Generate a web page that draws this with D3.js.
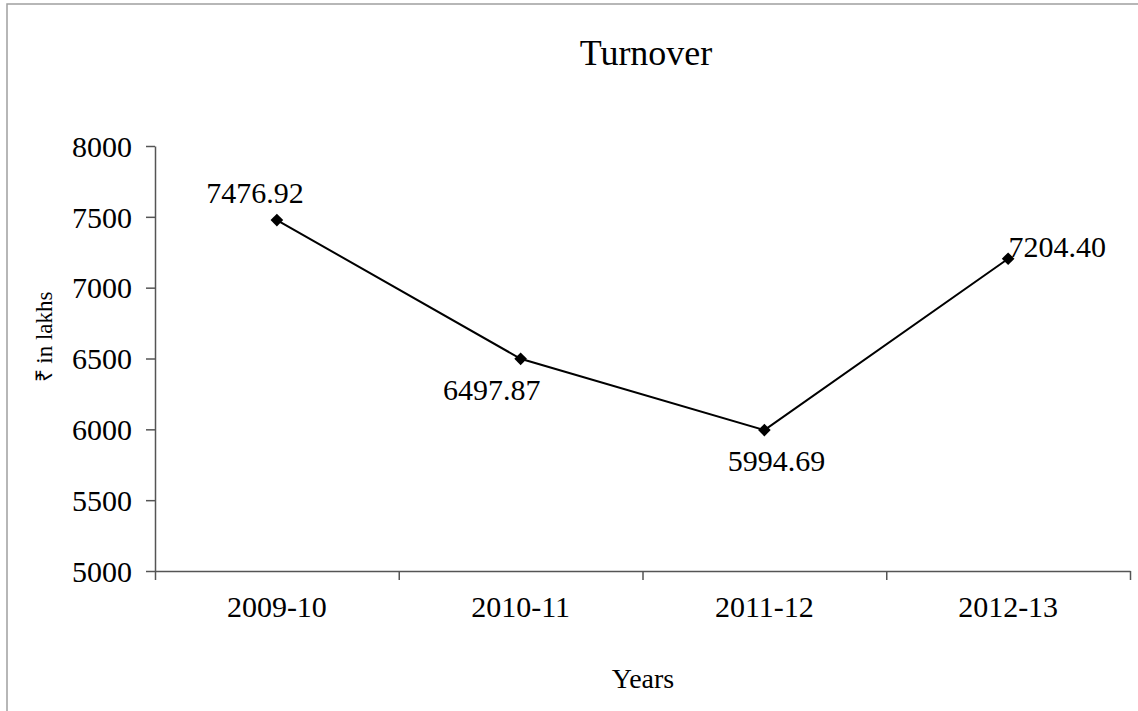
<!DOCTYPE html>
<html>
<head>
<meta charset="utf-8">
<script src="https://cdn.jsdelivr.net/npm/d3@7"></script>
<style>
  body { margin: 0; background: #fff; }
  text { font-family: "Liberation Serif", "Times New Roman", serif; fill: #000; }
</style>
</head>
<body>
<div id="chart"></div>
<script>
const years = ["2009-10", "2010-11", "2011-12", "2012-13"];
const turnover = [7476.92, 6497.87, 5994.69, 7204.4];
const yTicks = [5000, 5500, 6000, 6500, 7000, 7500, 8000];

// where each value label sits relative to its point (dx, dy of text centre/baseline)
const labelPos = [
  { dx: -22, dy: -17 },
  { dx: -29, dy: 41 },
  { dx: 12, dy: 41 },
  { dx: 49, dy: -2 },
];

const W = 1138;
const H = 711;
const plot = { left: 155, right: 1130, top: 146, bottom: 571 };
const serif = '"Liberation Serif", "Times New Roman", serif';

const svg = d3
  .select("#chart")
  .append("svg")
  .attr("width", W)
  .attr("height", H);

// outer chart border (runs off the right and bottom edges)
svg
  .append("rect")
  .attr("x", 7)
  .attr("y", 4)
  .attr("width", W + 20)
  .attr("height", H + 20)
  .attr("fill", "none")
  .attr("stroke", "#a0a0a0")
  .attr("stroke-width", 1.5);

const x = d3.scaleBand().domain(years).range([plot.left, plot.right]);
const y = d3.scaleLinear().domain([5000, 8000]).range([plot.bottom, plot.top]);
const edges = d3.scalePoint().domain(d3.range(years.length + 1)).range([plot.left, plot.right]);

// y axis
const yAxis = svg
  .append("g")
  .attr("transform", `translate(${plot.left},0)`)
  .call(
    d3.axisLeft(y).tickValues(yTicks).tickFormat(d3.format("d"))
      .tickSize(9).tickSizeOuter(0).tickPadding(14)
  )
  .attr("font-family", serif)
  .attr("font-size", 30);
yAxis.selectAll("path, line").attr("stroke", "#555").attr("stroke-width", 1.5);
yAxis.selectAll("text").attr("fill", "#000").attr("dy", "0.34em");

// x axis: tick marks on category boundaries
const xTicks = svg
  .append("g")
  .attr("transform", `translate(0,${plot.bottom})`)
  .call(d3.axisBottom(edges).tickSize(9).tickSizeOuter(0).tickFormat(""));
xTicks.selectAll("path, line").attr("stroke", "#555").attr("stroke-width", 1.5);

// x axis labels centred in each category
const xLabels = svg
  .append("g")
  .attr("transform", `translate(0,${plot.bottom})`)
  .call(d3.axisBottom(x).tickSize(0).tickPadding(36))
  .attr("font-family", serif)
  .attr("font-size", 30);
xLabels.select(".domain").remove();
xLabels.selectAll("text").attr("fill", "#000").attr("dy", "0.34em");

// line
const line = d3
  .line()
  .x((d, i) => x(years[i]) + x.bandwidth() / 2)
  .y((d) => y(d));

svg
  .append("path")
  .datum(turnover)
  .attr("d", line)
  .attr("fill", "none")
  .attr("stroke", "#000")
  .attr("stroke-width", 2);

// diamond markers
svg
  .selectAll(".marker")
  .data(turnover)
  .enter()
  .append("path")
  .attr("class", "marker")
  .attr("d", d3.symbol().type(d3.symbolSquare).size(80))
  .attr(
    "transform",
    (d, i) => `translate(${x(years[i]) + x.bandwidth() / 2},${y(d)}) rotate(45)`
  )
  .attr("fill", "#000");

// value labels
svg
  .selectAll(".value")
  .data(turnover)
  .enter()
  .append("text")
  .attr("class", "value")
  .attr("x", (d, i) => x(years[i]) + x.bandwidth() / 2 + labelPos[i].dx)
  .attr("y", (d, i) => y(d) + labelPos[i].dy)
  .attr("text-anchor", "middle")
  .style("font-size", "30px")
  .text((d) => d.toFixed(2));

// title and axis titles
svg
  .append("text")
  .attr("x", 646)
  .attr("y", 65)
  .attr("text-anchor", "middle")
  .style("font-size", "36px")
  .text("Turnover");

svg
  .append("text")
  .attr("x", 643)
  .attr("y", 688)
  .attr("text-anchor", "middle")
  .style("font-size", "28px")
  .text("Years");

svg
  .append("text")
  .attr("transform", "translate(52,337) rotate(-90)")
  .attr("text-anchor", "middle")
  .style("font-size", "23px")
  .text("₹ in lakhs");
</script>
</body>
</html>
